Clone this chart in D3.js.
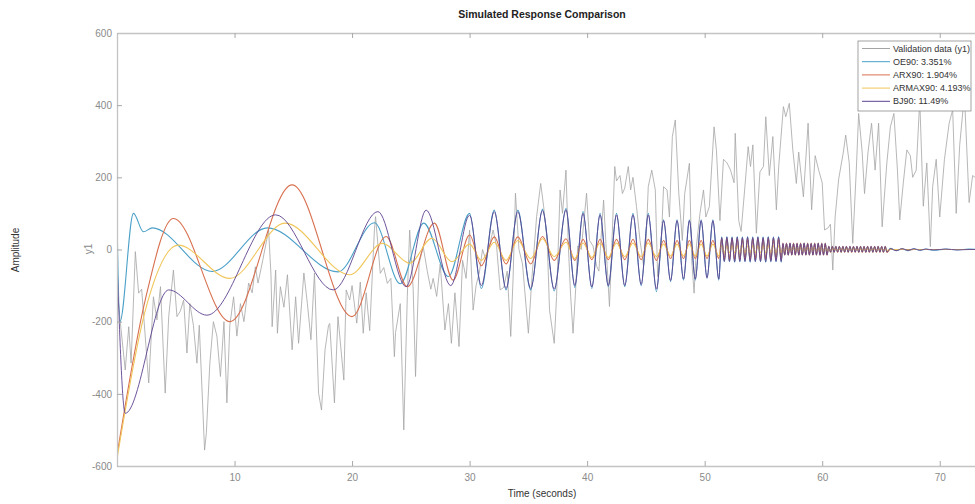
<!DOCTYPE html>
<html>
<head>
<meta charset="utf-8">
<script src="https://cdn.jsdelivr.net/npm/d3@7"></script>
<style>
    body { margin: 0; background: #fff; }
    text { font-family: "Liberation Sans", Arial, sans-serif; }
</style>
</head>
<body>
<div id="chart"></div>
<script>

// ---- data: [time (s), amplitude] ----
var validation = [
    [0.05,-120],[0.26,-195],[0.7,-334],[1.0,-214],[1.2,-315],[1.56,-6],[1.84,-121],[2.1,-110],[2.7,-370],[3.1,-131],
    [3.4,-195],[3.7,-103],[4.1,-398],[4.4,-186],[4.8,-57],[5.1,-186],[5.4,-170],[5.67,-140],[5.95,-287],[6.2,-150],
    [6.5,-210],[6.8,-315],[7.0,-210],[7.45,-556],[7.6,-510],[7.9,-315],[8.2,-200],[8.5,-240],[8.8,-352],[9.1,-200],
    [9.35,-425],[9.6,-210],[9.92,-131],[10.2,-240],[10.5,-150],[10.8,-200],[11.2,-93],[11.5,-120],[11.77,-48],[12.0,-93],
    [12.4,-30],[12.9,54],[13.1,-70],[13.2,-214],[13.5,-57],[13.65,-232],[13.9,-103],[14.2,-160],[14.5,-70],[14.9,-278],
    [15.2,-131],[15.45,-260],[15.9,-65],[16.2,-150],[16.5,-250],[16.8,-65],[17.15,-398],[17.4,-445],[17.7,-278],[18.0,-210],
    [18.1,-205],[18.5,-425],[18.8,-186],[19.3,-362],[19.5,-112],[19.8,-140],[20.0,-100],[20.4,-204],[20.7,-90],[20.95,-232],
    [21.2,-120],[21.5,-225],[21.9,54],[22.0,91],[22.4,-66],[22.7,-50],[23.0,-94],[23.3,-80],[23.6,-297],[23.7,-230],
    [24.1,-150],[24.4,-500],[24.7,-130],[24.9,54],[25.2,-110],[25.4,-352],[25.7,-40],[26.05,8],[26.4,-60],[26.7,-110],
    [26.9,-80],[27.2,-130],[27.5,-40],[27.9,-223],[28.2,-150],[28.45,-260],[28.75,-120],[29.1,-269],[29.4,-30],[29.7,-80],
    [30.0,54],[30.3,-168],[30.55,-100],[30.85,-60],[31.1,0],[31.4,-30],[32.0,54],[32.3,8],[32.6,-112],[32.9,-105],
    [33.2,-60],[33.5,-241],[33.7,-80],[33.9,156],[34.2,0],[34.5,-40],[35.0,-232],[35.3,-80],[35.7,91],[36.05,183],
    [36.3,119],[36.6,26],[36.8,-168],[37.2,-260],[37.4,-130],[37.7,165],[37.9,100],[38.2,220],[38.4,10],[38.6,-130],
    [38.8,-232],[39.0,-125],[39.2,10],[39.5,0],[39.95,156],[40.2,25],[40.5,10],[40.8,-45],[41.0,-60],[41.4,137],
    [41.7,-45],[41.9,-158],[42.1,10],[42.35,230],[42.5,190],[42.8,205],[43.0,155],[43.2,170],[43.5,230],[43.7,165],
    [43.9,200],[44.2,119],[44.5,25],[44.8,-45],[45.0,10],[45.2,174],[45.5,220],[45.8,165],[46.0,-75],[46.3,10],
    [46.5,174],[46.8,165],[47.0,90],[47.25,313],[47.5,359],[47.8,155],[48.1,25],[48.3,155],[48.7,239],[48.9,-30],
    [49.1,-121],[49.3,10],[49.6,100],[49.9,165],[50.1,90],[50.4,119],[50.8,340],[51.0,275],[51.3,80],[51.6,250],
    [51.9,240],[52.2,220],[52.5,185],[52.6,322],[52.9,80],[53.1,50],[53.4,165],[53.7,285],[53.9,230],[54.1,290],
    [54.4,45],[54.7,215],[55.0,230],[55.2,368],[55.5,205],[55.8,313],[56.1,110],[56.3,230],[56.7,396],[56.9,368],
    [57.2,405],[57.5,276],[57.8,183],[58.0,270],[58.4,146],[58.8,350],[59.1,110],[59.4,260],[59.7,220],[60.0,185],
    [60.2,54],[60.5,60],[60.7,70],[60.9,-57],[61.1,90],[61.4,195],[61.8,270],[62.0,317],[62.3,240],[62.6,17],
    [62.9,220],[63.1,377],[63.4,270],[63.6,155],[63.9,270],[64.2,350],[64.5,220],[64.8,350],[65.1,63],[65.5,240],
    [65.8,340],[66.1,377],[66.4,220],[66.6,82],[66.9,185],[67.2,276],[67.5,260],[67.7,200],[68.0,220],[68.3,414],
    [68.6,120],[68.9,240],[69.2,8],[69.4,175],[69.7,250],[70.0,90],[70.4,250],[70.8,350],[71.1,387],[71.4,100],
    [71.7,290],[72.1,430],[72.5,130],[72.8,205],[73.0,200]
];

// slow part of each model response (peaks / troughs)
var oeStart    = [[0,85],[0.25,-200],[1.4,100],[2.25,49],[3.0,60],[8.1,-61],[12.8,60],[18.8,-62],[21.9,74],[24.1,-95],[26.1,73],[28.2,-75]];
var arxStart   = [[0,-570],[2.4,-140],[4.8,86],[9.6,-200],[14.9,179],[20.0,-186],[22.9,36],[24.7,-103],[27.0,73],[28.6,-85]];
var armaxStart = [[0,-580],[2.4,-170],[5.2,12],[9.6,-80],[14.3,73],[19.8,-70],[22.6,17],[24.9,-38],[26.8,31],[28.5,-34]];
var bjStart    = [[0,-30],[0.7,-454],[4.4,-112],[7.65,-182],[13.5,96],[18.4,-112],[22.2,105],[24.6,-103],[26.3,109],[28.4,-100]];

// middle part: shared peak/trough times, one value per time
var midTimes = [30.0,31.0,32.1,33.1,34.1,35.2,36.2,37.2,38.2,38.95,39.65,40.4,41.1,41.8,42.5,43.2,43.9,44.6,45.2,45.9,
    46.5,47.1,47.65,48.2,48.7,49.2,49.7,50.2,50.7,51.2];
var oeMid    = [100,-108,109,-112,109,-112,112,-115,114,-105,105,-108,100,-103,100,-103,100,-100,100,-117,82,-89,82,-85,82,-85,82,-80,82,-85];
var arxMid   = [40,-45,35,-40,35,-40,36,-30,30,-30,28,-28,28,-28,28,-28,28,-28,28,-30,25,-25,25,-25,25,-25,25,-25,25,-25];
var armaxMid = [15,-30,20,-30,25,-25,30,-20,20,-25,18,-22,18,-22,18,-20,18,-20,18,-20,15,-18,15,-18,15,-18,15,-18,15,-18];
var bjMid    = [95,-100,105,-108,105,-108,108,-110,110,-100,100,-104,96,-100,96,-100,96,-97,96,-110,80,-86,80,-82,80,-82,80,-78,80,-82];

// fast decaying tail
var tailTimes = [
    51.45,51.67,51.89,52.11,52.33,52.55,52.77,52.99,53.21,53.43,53.65,53.87,54.09,54.31,54.53,54.75,54.97,55.19,55.41,55.63,55.85,56.07,56.29,56.51,
    56.66,56.81,56.96,57.11,57.26,57.41,57.56,57.71,57.86,58.01,58.16,58.31,58.46,58.61,58.76,58.91,59.06,59.21,59.36,59.51,59.66,59.81,59.96,60.11,60.26,60.41,
    60.56,60.71,60.86,61.01,61.16,61.31,61.46,61.61,61.76,61.91,62.06,62.21,62.36,62.51,62.66,62.81,62.96,63.11,63.26,63.41,63.56,63.71,63.86,64.01,64.16,64.31,64.46,64.61,64.76,64.91,65.06,65.21,65.36,65.51,
    65.8,66.3,66.8,67.3,67.8,68.3,68.8,69.5,70.5,71.5,72.5,73.2
];
var oeTail = [
    35,-34,36,-34,35,-35,36,-34,35,-34,36,-35,35,-34,36,-34,35,-35,36,-34,35,-34,36,-35,
    17,-15,17,-16,18,-15,17,-15,17,-16,17,-15,18,-15,17,-16,17,-15,17,-15,18,-16,17,-15,17,-15,
    9,-7,9,-8,9,-7,8,-8,9,-7,9,-8,9,-7,8,-7,9,-8,9,-7,8,-8,9,-7,9,-8,8,-7,9,-7,8,-8,9,-7,
    3,-3,2,-3,2,-2,1,-2,1,-1,1,0
];
var arxTail = [
    30,-28,31,-29,30,-28,31,-29,30,-28,31,-29,30,-28,31,-29,30,-28,31,-29,30,-28,31,-29,
    18,-16,18,-16,18,-16,18,-16,18,-16,18,-16,18,-16,18,-16,18,-16,18,-16,18,-16,18,-16,18,-16,
    9,-8,9,-8,9,-8,9,-8,9,-8,9,-8,9,-8,9,-8,9,-8,9,-8,9,-8,9,-8,9,-8,9,-8,9,-8,9,-8,9,-8,
    1,-1,1,-1,0,0,0,0,0,0,0,0
];
var armaxTail = [
    10,-9,10,-9,10,-9,10,-9,10,-9,10,-9,10,-9,10,-9,10,-9,10,-9,10,-9,10,-9,
    6,-5,6,-5,6,-5,6,-5,6,-5,6,-5,6,-5,6,-5,6,-5,6,-5,6,-5,6,-5,6,-5,
    3,-3,3,-3,3,-3,3,-3,3,-3,3,-3,3,-3,3,-3,3,-3,3,-3,3,-3,3,-3,3,-3,3,-3,3,-3,3,-3,3,-3,
    0,0,0,0,0,0,0,0,0,0,0,0
];
var bjTail = [
    33,-33,34,-33,33,-34,34,-33,33,-33,34,-33,33,-33,34,-33,33,-34,34,-33,33,-33,34,-33,
    16,-15,16,-15,17,-15,16,-15,16,-15,16,-15,17,-15,16,-15,16,-15,16,-15,17,-15,16,-15,16,-15,
    8,-7,8,-7,8,-7,8,-7,8,-7,8,-7,8,-7,8,-7,8,-7,8,-7,8,-7,8,-7,8,-7,8,-7,8,-7,8,-7,8,-7,
    2,-3,2,-2,2,-2,1,-1,1,-1,0,0
];

var legendLabels = ["Validation data (y1)", "OE90: 3.351%", "ARX90: 1.904%", "ARMAX90: 4.193%", "BJ90: 11.49%"];
var xTicks = [10, 20, 30, 40, 50, 60, 70];
var yTicks = [-600, -400, -200, 0, 200, 400, 600];


function joinParts(start, mid, tail) {
    return start
        .concat(midTimes.map(function(t, i) { return [t, mid[i]]; }))
        .concat(tailTimes.map(function(t, i) { return [t, tail[i]]; }));
}


CompareChart = function(_parentElement, _series) {
    this.parentElement = _parentElement;
    this.series = _series;
    this.initVis();
};

CompareChart.prototype.initVis = function() {
    var vis = this;

    vis.margin = { top: 33, right: 0, bottom: 38, left: 117 };
    vis.width = 975 - vis.margin.left - vis.margin.right;
    vis.height = 504 - vis.margin.top - vis.margin.bottom;

    vis.root = d3.select("#" + vis.parentElement).append("svg")
        .attr("width", 975)
        .attr("height", 504);

    vis.svg = vis.root.append("g")
        .attr("transform", "translate(" + vis.margin.left + "," + vis.margin.top + ")");

    vis.x = d3.scaleLinear().domain([0, 73]).range([0, vis.width]);
    vis.y = d3.scaleLinear().domain([-600, 600]).range([vis.height, 0]);

    vis.svg.append("clipPath").attr("id", "plot-clip")
        .append("rect")
        .attr("width", vis.width)
        .attr("height", vis.height);

    vis.updateVis();
};

CompareChart.prototype.updateVis = function() {
    var vis = this;

    var axisColor = "#c4c4c4";
    var labelColor = "#8a8a8a";

    // lines
    vis.line = d3.line()
        .x(function(d) { return vis.x(d[0]); })
        .y(function(d) { return vis.y(d[1]); });

    var plot = vis.svg.append("g").attr("clip-path", "url(#plot-clip)");

    plot.selectAll(".series")
        .data(vis.series)
        .enter().append("path")
        .attr("class", "series")
        .attr("fill", "none")
        .attr("stroke", function(d) { return d.color; })
        .attr("stroke-width", function(d) { return d.width; })
        .attr("stroke-opacity", function(d) { return d.opacity; })
        .attr("stroke-linejoin", "round")
        .attr("d", function(d) {
            return vis.line.curve(d.smooth ? d3.curveMonotoneX : d3.curveLinear)(d.values);
        });

    // axes, ticks pointing inward like the original
    var fmt = function(d) { return String(d); };

    var yAxis = vis.svg.append("g")
        .call(d3.axisLeft(vis.y).tickValues(yTicks).tickFormat(fmt).tickSizeInner(-5).tickSizeOuter(0).tickPadding(5));

    var xAxis = vis.svg.append("g")
        .attr("transform", "translate(0," + vis.height + ")")
        .call(d3.axisBottom(vis.x).tickValues(xTicks).tickFormat(fmt).tickSizeInner(-5).tickSizeOuter(0).tickPadding(8));

    var topAxis = vis.svg.append("g")
        .call(d3.axisTop(vis.x).tickValues(xTicks).tickFormat("").tickSizeInner(-5).tickSizeOuter(0));

    [yAxis, xAxis, topAxis].forEach(function(g) {
        g.select(".domain").attr("stroke", axisColor).attr("stroke-width", 1.3);
        g.selectAll(".tick line").attr("stroke", "#a8a8a8");
        g.selectAll(".tick text").attr("fill", labelColor).style("font-size", "10px")
            .style("font-family", "'Liberation Sans', Arial, sans-serif");
    });

    // titles
    vis.root.append("text")
        .attr("x", 542).attr("y", 18)
        .attr("text-anchor", "middle")
        .style("font-size", "10.5px").style("font-weight", "bold")
        .attr("fill", "#222")
        .text("Simulated Response Comparison");

    vis.root.append("text")
        .attr("text-anchor", "middle")
        .attr("transform", "translate(19,250)rotate(-90)")
        .style("font-size", "10px")
        .attr("fill", "#333")
        .text("Amplitude");

    vis.root.append("text")
        .attr("text-anchor", "middle")
        .attr("transform", "translate(92,249)rotate(-90)")
        .style("font-size", "10px")
        .attr("fill", labelColor)
        .text("y1");

    vis.root.append("text")
        .attr("x", 542).attr("y", 497)
        .attr("text-anchor", "middle")
        .style("font-size", "10px")
        .attr("fill", "#333")
        .text("Time (seconds)");

    // legend
    var lx = 858, ly = 41, rowH = 13.2;
    var legend = vis.root.append("g").attr("class", "legend");

    legend.append("rect")
        .attr("x", lx).attr("y", ly)
        .attr("width", 113).attr("height", 70)
        .attr("fill", "#fff")
        .attr("stroke", "#8c8c8c")
        .attr("stroke-width", 0.8);

    var rows = legend.selectAll(".row")
        .data(vis.series)
        .enter().append("g")
        .attr("class", "row")
        .attr("transform", function(d, i) { return "translate(" + lx + "," + (ly + 7.5 + rowH * i) + ")"; });

    rows.append("line")
        .attr("x1", 4).attr("x2", 32)
        .attr("stroke", function(d) { return d.color; })
        .attr("stroke-width", 1);

    rows.append("text")
        .attr("x", 35)
        .attr("dy", "0.35em")
        .style("font-size", "9px")
        .attr("fill", "#333")
        .text(function(d) { return d.name; });
};


var chart = new CompareChart("chart", [
    { name: legendLabels[0], values: validation, color: "#a4a4a4", width: 0.8, opacity: 1, smooth: false },
    { name: legendLabels[1], values: joinParts(oeStart, oeMid, oeTail), color: "#4ba0c8", width: 1.1, opacity: 1, smooth: true },
    { name: legendLabels[2], values: joinParts(arxStart, arxMid, arxTail), color: "#d8704f", width: 1.1, opacity: 1, smooth: true },
    { name: legendLabels[3], values: joinParts(armaxStart, armaxMid, armaxTail), color: "#f1c65a", width: 1.1, opacity: 1, smooth: true },
    { name: legendLabels[4], values: joinParts(bjStart, bjMid, bjTail), color: "#5e4290", width: 1.0, opacity: 0.9, smooth: true }
]);

</script>
</body>
</html>
